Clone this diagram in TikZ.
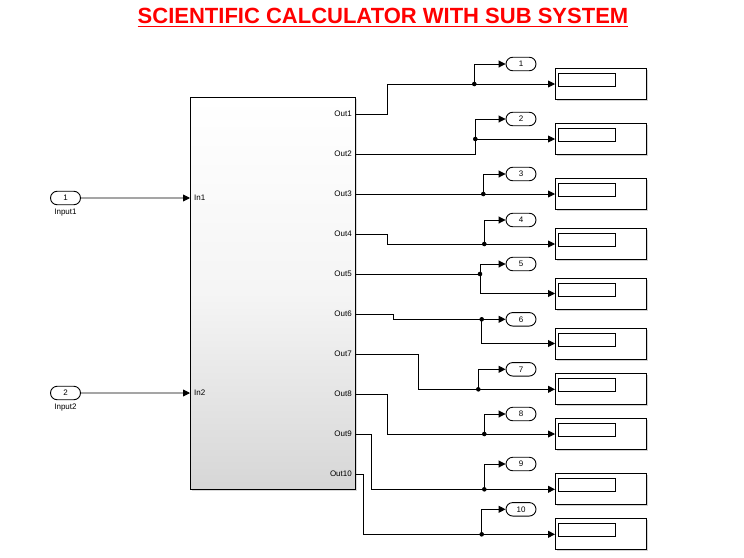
\documentclass[tikz,border=0pt]{standalone}
\usepackage{fontspec}
\setmainfont{Liberation Sans}
\usetikzlibrary{arrows.meta,shapes.misc,shadows,calc}
\begin{document}
\begin{tikzpicture}[x=1pt,y=-1pt,
  sig/.style={line width=0.9pt},
  arr/.style={line width=0.9pt,-{Triangle[length=7pt,width=7pt]}},
  portov/.style={draw,line width=0.9pt,rounded rectangle,minimum width=30pt,minimum height=13.5pt,inner sep=0pt,font=\fontsize{8}{9}\selectfont},
  disp/.style={draw,line width=0.9pt,fill=white,minimum width=91pt,minimum height=31pt,inner sep=0pt,
     drop shadow={shadow xshift=1.5pt,shadow yshift=-1.5pt,opacity=0.35}},
  dispin/.style={draw,line width=0.8pt,minimum width=57pt,minimum height=13pt,inner sep=0pt},
  lbl/.style={font=\fontsize{8}{9}\selectfont,inner sep=0pt},
  dotc/.style={circle,fill=black,inner sep=0pt,minimum size=4.6pt}
]
\useasboundingbox (0,0) rectangle (744,557);
% title
\node[anchor=base,text=red,font=\bfseries\fontsize{22}{26}\selectfont,inner sep=0pt] (title) at (383,23) {SCIENTIFIC CALCULATOR WITH SUB SYSTEM};
\draw[red,line width=1.8pt] ([yshift=-3.5pt]title.base west) -- ([yshift=-3.5pt]title.base east);
% subsystem block
\node[draw,line width=0.9pt,minimum width=165pt,minimum height=392pt,anchor=north west,inner sep=0pt,
  top color=white,bottom color=black!16,middle color=white!96!black,
  drop shadow={shadow xshift=2pt,shadow yshift=-2pt,opacity=0.3}] (sub) at (190,97) {};
% inputs
\node[portov] (in1) at (65.5,198) {1};
\node[lbl] (in1l) at (65.5,213) {Input1};
\node[portov] (in2) at (65.5,393) {2};
\node[lbl] (in2l) at (65.5,408) {Input2};
\coordinate (i1) at (190,198);
\coordinate (i2) at (190,393);
\node[lbl,anchor=west] (i1t) at (194,198) {In1};
\node[lbl,anchor=west] (i2t) at (194,393) {In2};
\draw[arr] (in1) -- (i1);
\draw[arr] (in2) -- (i2);
% outputs
\foreach \i/\oy/\jx/\by/\bx/\py/\dy in {
  1/114/387.7/84/474.3/64/84,
  2/154/475.3/139/475.3/119/139,
  3/194/483.3/194/483.3/174/194,
  4/234/387.7/244/484.3/220/244,
  5/274/480/274/480/264/293.5,
  6/314/393.3/319.3/481.7/319.3/343.5,
  7/354/418.3/389.3/478.3/369.3/389.3,
  8/394/387.3/434/484.3/414/434,
  9/434/371/489.3/484.3/464/489.3,
  10/474/363.3/534.3/481.7/509.3/534.3}{
  \coordinate (o\i) at (355,\oy);
  \node[lbl,anchor=east] (ot\i) at (352,\oy) {Out\i};
  \coordinate (b\i) at (\bx,\by);
  \node[portov] (p\i) at (521,\py) {\i};
  \node[disp,anchor=west] (d\i) at (555,\dy) {};
  \node[dispin,anchor=north west] (di\i) at ($(d\i.north west)+(3,5)$) {};
  \draw[sig] (o\i) -- (\jx,\oy) -- (\jx,\by) -- (b\i);
  \draw[arr] (b\i) |- (p\i.west);
  \draw[arr] (b\i) |- (d\i.west);
  \node[dotc] (bd\i) at (b\i) {};
}
\end{tikzpicture}
\end{document}
